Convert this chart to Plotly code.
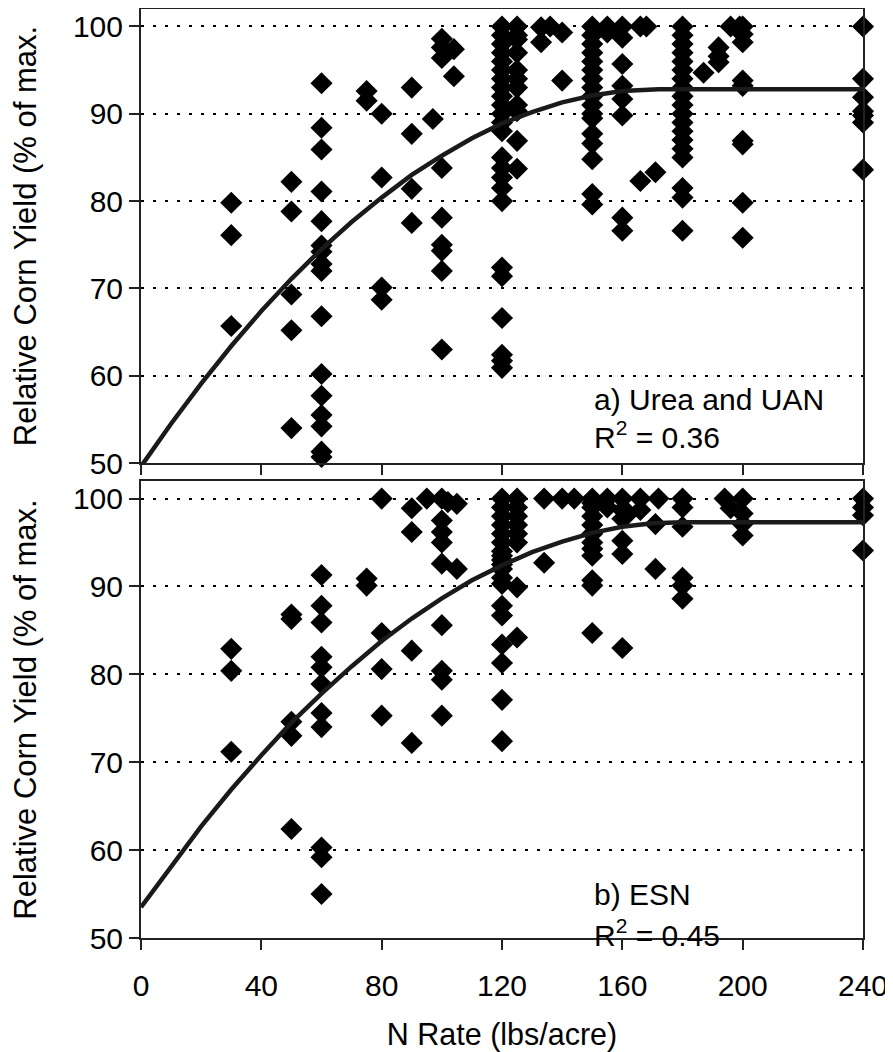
import plotly.graph_objects as go

# ---------------- data ----------------
# Panel a) Urea and UAN : N rate (lbs/acre) -> relative yields (% of max)
urea_rates = [30, 50, 60, 75, 80, 90, 97, 100, 104, 120, 125, 133, 136, 140, 150,
              155, 160, 166, 168, 171, 180, 187, 192, 196, 199, 200, 240]
urea_yields = [
    [79.8, 76.1, 65.7],
    [82.2, 78.8, 69.3, 65.2, 54.0],
    [93.5, 88.4, 85.9, 81.1, 77.7, 74.9, 74.2, 72.8, 72.0, 66.8, 60.2, 57.7, 55.5, 54.2, 51.3, 50.7],
    [92.6, 91.5],
    [90.0, 82.7, 70.1, 68.7],
    [93.0, 87.7, 81.4, 77.5],
    [89.4],
    [98.6, 97.6, 96.4, 83.8, 78.1, 75.0, 74.3, 72.0, 63.0],
    [97.4, 94.3],
    [100, 99, 98, 97, 96, 95, 94, 93, 92, 91, 90, 89, 88, 85.0, 83.8, 82.7, 81.5, 80.0,
     72.4, 71.4, 66.6, 62.4, 61.7, 60.9],
    [100, 99, 98.5, 97, 95, 94, 93, 91, 90.3, 86.9, 83.7],
    [99.9, 98.2],
    [100],
    [99.3, 93.8],
    [100, 99, 98, 97, 96, 95, 94, 93, 92, 91, 90, 89.5, 87.7, 86.6, 84.8, 80.8, 79.6],
    [100, 99.3],
    [100, 98.7, 95.7, 93.2, 91.7, 89.8, 78.1, 76.6],
    [100, 82.3],
    [100],
    [83.3],
    [100, 99, 98, 97, 96, 95, 94, 93, 92, 91, 90, 89, 88, 87, 86, 85, 81.5, 80.4, 76.6],
    [94.7],
    [97.6, 96.6, 95.9],
    [100],
    [100],
    [100, 99.1, 98.2, 93.8, 93.2, 86.9, 86.5, 79.8, 75.8],
    [100, 94.0, 91.9, 90.3, 89.8, 89.0, 83.6],
]
# fitted quadratic-plateau curve
urea_fit_x = [0, 10, 20, 30, 40, 50, 60, 70, 80, 90, 100, 110, 120, 130, 140, 150, 160, 172, 240]
urea_fit_y = [49.6, 54.5, 59.1, 63.4, 67.4, 71.1, 74.5, 77.6, 80.4, 83.0, 85.2, 87.2, 88.9,
              90.2, 91.3, 92.1, 92.6, 92.8, 92.8]

# Panel b) ESN
esn_rates = [30, 50, 60, 75, 80, 90, 95, 100, 102, 105, 120, 125, 134, 140, 144, 150,
             155, 160, 162, 166, 171, 172, 180, 194, 196, 200, 240]
esn_yields = [
    [82.9, 80.4, 71.2],
    [86.8, 86.3, 74.6, 73.0, 62.4],
    [91.3, 87.8, 85.9, 82.0, 80.8, 78.9, 75.6, 74.0, 60.3, 59.2, 55.0],
    [90.9, 90.1],
    [100, 84.7, 80.6, 75.3],
    [98.9, 96.2, 82.7, 72.2],
    [100],
    [100, 97.5, 96.2, 95.0, 92.6, 85.6, 80.4, 79.4, 75.3],
    [99.6],
    [99.4, 92.0],
    [100, 99, 98, 97, 96, 95, 94, 93.5, 93, 92.5, 92, 91, 90.3, 87.8, 86.7, 83.4, 81.3, 77.1, 72.4],
    [100, 99, 98, 97, 96, 95, 89.9, 84.2],
    [100, 92.7],
    [100],
    [100],
    [100, 99.5, 99, 98, 97, 96, 95, 94.3, 93.5, 90.7, 90.1, 84.7],
    [100, 99.0],
    [100, 98.7, 97.7, 95.2, 93.7, 83.0],
    [98.3],
    [100, 98.7],
    [97.1, 92.0],
    [100],
    [100, 99.0, 96.8, 91.0, 90.1, 88.6],
    [100],
    [98.9],
    [100, 98.3, 97.1, 95.8],
    [100, 99.0, 98.1, 94.1],
]
esn_fit_x = [0, 10, 20, 30, 40, 50, 60, 70, 80, 90, 100, 110, 120, 130, 140, 150, 160, 170, 180, 240]
esn_fit_y = [53.5, 58.2, 62.7, 66.9, 70.8, 74.5, 77.8, 80.9, 83.8, 86.35, 88.65, 90.7, 92.4,
             93.9, 95.1, 96.1, 96.8, 97.2, 97.3, 97.3]

x_ticks = [0, 40, 80, 120, 160, 200, 240]
y_ticks = [50, 60, 70, 80, 90, 100]
y_title = "Relative Corn Yield (% of max."
x_title = "N Rate (lbs/acre)"
labels = [("a) Urea and UAN", "R<sup>2</sup> = 0.36"), ("b) ESN", "R<sup>2</sup> = 0.45")]


def flatten(rates, groups):
    xs, ys = [], []
    for r, g in zip(rates, groups):
        for v in g:
            xs.append(r)
            ys.append(v)
    return xs, ys


FONT = "Arial, 'Liberation Sans', sans-serif"
fig = go.Figure()

ux, uy = flatten(urea_rates, urea_yields)
ex, ey = flatten(esn_rates, esn_yields)

marker = dict(symbol="diamond", size=17, color="black", line=dict(width=0))
fig.add_trace(go.Scatter(x=ux, y=uy, mode="markers", marker=marker, cliponaxis=False,
                         xaxis="x", yaxis="y", showlegend=False))
fig.add_trace(go.Scatter(x=urea_fit_x, y=urea_fit_y, mode="lines", line=dict(color="#1a1a1a", width=4.5),
                         xaxis="x", yaxis="y", showlegend=False))
fig.add_trace(go.Scatter(x=ex, y=ey, mode="markers", marker=marker, cliponaxis=False,
                         xaxis="x2", yaxis="y2", showlegend=False))
fig.add_trace(go.Scatter(x=esn_fit_x, y=esn_fit_y, mode="lines", line=dict(color="#1a1a1a", width=4.5),
                         xaxis="x2", yaxis="y2", showlegend=False))

axis_common = dict(showline=True, linecolor="#222", linewidth=2, mirror=True,
                   ticks="outside", ticklen=10, tickwidth=2, tickcolor="#222",
                   zeroline=False, automargin=False,
                   tickfont=dict(family=FONT, size=30, color="black"))

xa = dict(axis_common, range=[0, 240], tickvals=x_ticks, showgrid=False)
ya = dict(axis_common, range=[50, 102], tickvals=y_ticks, showgrid=True,
          gridcolor="black", gridwidth=1.5, griddash="3px,9px",
          title=dict(text=y_title, font=dict(family=FONT, size=31, color="black"), standoff=34))

# the page body adds an 8px offset, so the figure is sized to fill the rest of the window
fig.update_layout(
    width=885, height=1044,
    margin=dict(l=133, r=30, t=1, b=114),
    paper_bgcolor="white", plot_bgcolor="white",
    xaxis=dict(xa, anchor="y", domain=[0, 1], showticklabels=False),
    yaxis=dict(ya, anchor="x", domain=[0.5113, 1]),
    xaxis2=dict(xa, anchor="y2", domain=[0, 1], ticklabelstandoff=10,
                title=dict(text=x_title, font=dict(family=FONT, size=30.5, color="black"), standoff=29)),
    yaxis2=dict(ya, anchor="x2", domain=[0, 0.4919]),
)

ann_font = dict(family=FONT, size=30, color="black")
fig.add_annotation(x=150, y=57.3, xref="x", yref="y", text=labels[0][0], showarrow=False,
                   xanchor="left", yanchor="middle", font=ann_font)
fig.add_annotation(x=150, y=53.2, xref="x", yref="y", text=labels[0][1], showarrow=False,
                   xanchor="left", yanchor="middle", font=ann_font)
fig.add_annotation(x=150, y=54.9, xref="x2", yref="y2", text=labels[1][0], showarrow=False,
                   xanchor="left", yanchor="middle", font=ann_font)
fig.add_annotation(x=150, y=50.6, xref="x2", yref="y2", text=labels[1][1], showarrow=False,
                   xanchor="left", yanchor="middle", font=ann_font)

fig.write_html("out.html")
